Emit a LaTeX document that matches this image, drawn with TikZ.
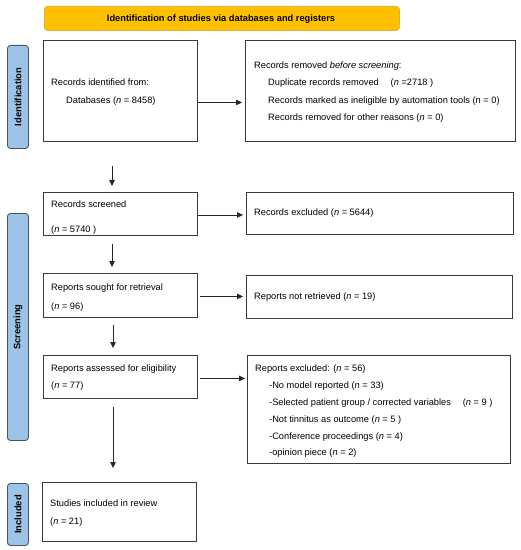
\documentclass[tikz,border=0pt]{standalone}
\usepackage{fontspec}
\setmainfont{Liberation Sans}
\usetikzlibrary{arrows.meta}
\definecolor{banner}{HTML}{FFC000}
\definecolor{bannerline}{HTML}{E8B030}
\definecolor{side}{HTML}{9DC3E6}
\definecolor{sideline}{HTML}{4A5563}
\definecolor{boxline}{HTML}{3A3A3A}
\tikzset{
  box/.style={draw=boxline, line width=0.9bp, anchor=north west, inner sep=0pt, fill=white},
  sidebar/.style={draw=sideline, fill=side, line width=0.9bp, rounded corners=3bp, anchor=north west, inner sep=0pt},
  sidetext/.style={rotate=90, font=\fontsize{9.4}{11}\selectfont\bfseries, inner sep=0pt},
  txt/.style={anchor=base west, inner sep=0pt, font=\fontsize{9.3}{11}\selectfont},
  arr/.style={draw=black!85, line width=0.8bp, -{Triangle[length=6bp,width=5.5bp]}},
}
\begin{document}
\begin{tikzpicture}[x=1bp,y=-1bp]
\useasboundingbox (0,0) rectangle (521,550);
% banner
\node[draw=bannerline, fill=banner, line width=0.8bp, rounded corners=3bp, anchor=north west, minimum width=355bp, minimum height=24bp, inner sep=0pt] (ban) at (44,6) {};
\node[inner sep=0pt, font=\fontsize{9.3}{11}\selectfont\bfseries] (bant) at (221,19) {Identification of studies via databases and registers};
% side bars
\node[sidebar, minimum width=21bp, minimum height=103bp] (sid) at (7,45) {};
\node[sidetext] (sidt) at (sid.center) {Identification};
\node[sidebar, minimum width=21bp, minimum height=227bp] (sscr) at (7,213) {};
\node[sidetext] (sscrt) at (sscr.center) {Screening};
\node[sidebar, minimum width=21bp, minimum height=62bp] (sinc) at (7,483) {};
\node[sidetext] (sinct) at (sinc.center) {Included};
% boxes
\node[box, minimum width=154bp, minimum height=101bp] (b1) at (43,40) {};
\node[box, minimum width=270bp, minimum height=101bp] (b2) at (245,40) {};
\node[box, minimum width=154bp, minimum height=43bp] (b3) at (43,192) {};
\node[box, minimum width=267bp, minimum height=42bp] (b4) at (246,192) {};
\node[box, minimum width=154bp, minimum height=44bp] (b5) at (43,273) {};
\node[box, minimum width=266bp, minimum height=43bp] (b6) at (246,275) {};
\node[box, minimum width=154bp, minimum height=43bp] (b7) at (43,355) {};
\node[box, minimum width=263bp, minimum height=108bp] (b8) at (247,355) {};
\node[box, minimum width=154bp, minimum height=59bp] (b9) at (42,482) {};
% texts
\node[txt] (t1a) at (51,86) {Records identified from:};
\node[txt] (t1b) at (66,103.3) {Databases (\textit{n} = 8458)};
\node[txt] (t2a) at (254,69) {Records removed \textit{before screening}:};
\node[txt] (t2b) at (268,86) {Duplicate records removed\quad\ (\textit{n} =2718 )};
\node[txt] (t2c) at (268,103.3) {Records marked as ineligible by automation tools (n = 0)};
\node[txt] (t2d) at (268,120.3) {Records removed for other reasons (\textit{n} = 0)};
\node[txt] (t3a) at (51,208) {Records screened};
\node[txt] (t3b) at (51,232) {(\textit{n} = 5740 )};
\node[txt] (t4a) at (254,216) {Records excluded (\textit{n} = 5644)};
\node[txt] (t5a) at (51,290) {Reports sought for retrieval};
\node[txt] (t5b) at (51,309.3) {(\textit{n} = 96)};
\node[txt] (t6a) at (254,299.3) {Reports not retrieved (\textit{n} = 19)};
\node[txt] (t7a) at (51,371.6) {Reports assessed for eligibility};
\node[txt] (t7b) at (51,388.3) {(\textit{n} = 77)};
\node[txt] (t8a) at (255,371.6) {Reports excluded: (\textit{n} = 56)};
\node[txt] (t8b) at (269,388.3) {-No model reported (\textit{n} = 33)};
\node[txt] (t8c) at (269,405.6) {-Selected patient group / corrected variables\quad\ (\textit{n} = 9 )};
\node[txt] (t8d) at (269,422.3) {-Not tinnitus as outcome (\textit{n} = 5 )};
\node[txt] (t8e) at (269,439) {-Conference proceedings (\textit{n} = 4)};
\node[txt] (t8f) at (269,455.6) {-opinion piece (\textit{n} = 2)};
\node[txt] (t9a) at (50,506.6) {Studies included in review};
\node[txt] (t9b) at (50,524) {(\textit{n} = 21)};
% horizontal arrows
\draw[arr, shorten >=3bp] ([yshift=-11.5bp]b1.east) -- ([yshift=-11.5bp]b1.east -| b2.west);
\draw[arr, shorten >=3bp] ([yshift=-1bp]b3.east) -- ([yshift=-1bp]b3.east -| b4.west);
\draw[arr, shorten <=2bp, shorten >=3bp] ([yshift=-1bp]b5.east) -- ([yshift=-1bp]b5.east -| b6.west);
\draw[arr, shorten <=2bp, shorten >=2bp] ([yshift=-1.5bp]b7.east) -- ([yshift=-1.5bp]b7.east -| b8.west);
% vertical arrows
\coordinate (v1) at (112,166);
\coordinate (v2) at (112,244);
\coordinate (v3) at (113,325);
\coordinate (v4) at (113,407);
\draw[arr, shorten >=6bp] (v1) -- (v1 |- b3.north);
\draw[arr, shorten >=6bp] (v2) -- (v2 |- b5.north);
\draw[arr, shorten >=7bp] (v3) -- (v3 |- b7.north);
\draw[arr, shorten >=14bp] (v4) -- (v4 |- b9.north);
\end{tikzpicture}
\end{document}
